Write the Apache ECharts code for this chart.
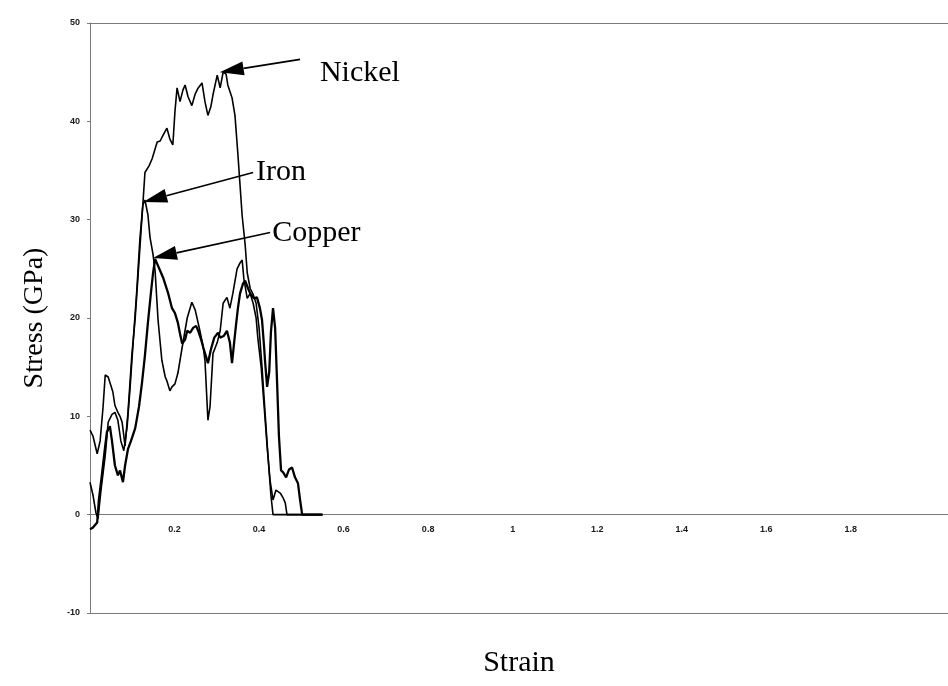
<!DOCTYPE html>
<html><head><meta charset="utf-8">
<script src="https://cdn.jsdelivr.net/npm/echarts@6/dist/echarts.min.js"></script>
<style>html,body{margin:0;padding:0;background:#fff}#c{width:948px;height:686px}</style>
</head><body><div id="c"></div>
<script>
// ---- data: [strain, stress (GPa)] ----
const nickel = [[0,3.3],[0.007,2.0],[0.014,0.2],[0.019,-0.4],[0.026,2.5],[0.036,6],[0.043,9.4],[0.052,10.2],[0.059,10.4],[0.066,9.6],[0.073,7.5],[0.080,6.5],[0.088,9],[0.095,13],[0.102,17.5],[0.111,23],[0.118,28],[0.125,31.5],[0.130,34.8],[0.140,35.5],[0.147,36.2],[0.152,36.9],[0.159,37.9],[0.166,38],[0.173,38.6],[0.182,39.3],[0.189,38.2],[0.196,37.6],[0.201,41],[0.206,43.4],[0.213,42],[0.220,43.2],[0.225,43.7],[0.232,42.5],[0.241,41.6],[0.249,42.8],[0.256,43.4],[0.265,43.9],[0.272,42],[0.279,40.6],[0.286,41.5],[0.291,42.7],[0.301,44.7],[0.308,43.4],[0.315,45],[0.322,44.8],[0.326,43.7],[0.336,42.4],[0.343,40.6],[0.350,36.6],[0.355,33.5],[0.360,30.4],[0.367,27.5],[0.372,24.6],[0.379,23],[0.386,22.4],[0.393,21.5],[0.400,19],[0.407,15],[0.414,10.5],[0.421,6],[0.428,2],[0.433,0],[0.55,0]];
const iron = [[0,8.6],[0.007,8.0],[0.017,6.2],[0.024,7.5],[0.031,11],[0.036,14.2],[0.043,14.0],[0.047,14],[0.054,12.5],[0.059,11.1],[0.066,10.4],[0.071,10],[0.076,9.4],[0.083,7],[0.090,10.5],[0.099,16.2],[0.107,20],[0.114,24.5],[0.121,29],[0.125,31.5],[0.130,32],[0.137,30.5],[0.142,28.2],[0.149,26.5],[0.154,24.8],[0.161,19.8],[0.170,15.7],[0.178,14],[0.182,13.6],[0.189,12.6],[0.194,13],[0.201,13.3],[0.208,14.4],[0.218,17],[0.230,20],[0.241,21.6],[0.249,20.8],[0.260,18.7],[0.268,17],[0.272,15.7],[0.279,9.6],[0.284,11],[0.291,16.4],[0.301,17.5],[0.308,18.7],[0.315,21.5],[0.324,22.1],[0.331,21],[0.338,22.5],[0.348,25],[0.355,25.6],[0.360,25.9],[0.364,24],[0.372,22],[0.379,22.5],[0.386,21.5],[0.393,20],[0.397,18],[0.405,15],[0.412,11],[0.419,7],[0.426,3.5],[0.433,1.5],[0.440,2.5],[0.450,2.2],[0.457,1.7],[0.462,1.2],[0.466,0],[0.55,0]];
const copper = [[0,-1.5],[0.007,-1.3],[0.017,-0.8],[0.021,1.5],[0.028,4],[0.036,7],[0.040,8.4],[0.047,9],[0.052,7.5],[0.059,5],[0.066,4],[0.071,4.5],[0.078,3.3],[0.083,5],[0.090,6.7],[0.097,7.5],[0.107,8.8],[0.116,11],[0.123,13.4],[0.130,16.2],[0.137,19.5],[0.144,22.5],[0.149,24.5],[0.154,26],[0.159,25.5],[0.166,24.8],[0.173,24.1],[0.185,22.5],[0.194,21],[0.201,20.5],[0.208,19.5],[0.213,18.4],[0.218,17.4],[0.225,17.8],[0.230,18.7],[0.237,18.5],[0.244,19],[0.251,19.2],[0.256,18.7],[0.263,17.8],[0.268,17],[0.275,16],[0.279,15.4],[0.286,16.8],[0.294,18],[0.303,18.5],[0.308,18],[0.317,18.2],[0.324,18.7],[0.331,17.5],[0.336,15.4],[0.341,17.5],[0.346,19.5],[0.350,21],[0.355,22.5],[0.362,23.5],[0.367,23.8],[0.374,23],[0.379,22.5],[0.388,22],[0.395,22.1],[0.402,21],[0.407,19.8],[0.412,17],[0.414,15.7],[0.419,13],[0.424,14.5],[0.428,18.5],[0.433,21],[0.438,19],[0.443,13],[0.447,8],[0.452,4.5],[0.457,4.3],[0.464,3.8],[0.471,4.6],[0.478,4.8],[0.485,3.8],[0.492,3.2],[0.497,1.5],[0.502,0],[0.55,0]];

const xTickValues = [0.2,0.4,0.6,0.8,1,1.2,1.4,1.6,1.8];
const xTickLabels = ['0.2','0.4','0.6','0.8','1','1.2','1.4','1.6','1.8'];
const yTickValues = [-10,0,10,20,30,40,50];
const yTickLabels = ['-10','0','10','20','30','40','50'];

const xTitle = 'Strain';
const yTitle = 'Stress (GPa)';

// annotations (data coords)
const annLabels = ['Nickel','Iron','Copper'];
const annText = [[0.544,44.9],[0.393,34.8],[0.431,28.6]];
const annTail = [[0.497,46.3],[0.386,34.8],[0.426,28.7]];
const annTip  = [[0.307,45.0],[0.126,31.8],[0.149,26.1]];

const chart = echarts.init(document.getElementById('c'), null, {renderer:'canvas'});
const lab = (vals, labs) => v => { const i = vals.findIndex(t => Math.abs(t - v) < 1e-6); return i >= 0 ? labs[i] : ''; };
const serif = '"Liberation Serif","Times New Roman",serif';
const axisGray = '#7a7a7a';
const XMAX = 2.03;
const borderAxis = (pos) => ({
  type: 'value', min: 0, max: XMAX, position: pos,
  axisLine: { show: true, onZero: false, lineStyle: { color: axisGray, width: 1 } },
  axisTick: { show: false }, axisLabel: { show: false }, splitLine: { show: false }
});

const option = {
  animation: false,
  backgroundColor: '#fff',
  grid: { left: 90, top: 23, right: 0, bottom: 73, show: false },
  xAxis: [
    {
      type: 'value', min: 0, max: XMAX, interval: 0.2, position: 'bottom', offset: -99,
      axisLine: { show: true, onZero: false, lineStyle: { color: axisGray, width: 1 } },
      axisTick: { show: false },
      splitLine: { show: false },
      axisLabel: { formatter: lab(xTickValues, xTickLabels), margin: 11, fontSize: 9, fontWeight: 'bold', color: '#1a1a1a', fontFamily: '"Liberation Sans",Arial,sans-serif', showMaxLabel: false, showMinLabel: false }
    },
    borderAxis('top'),
    Object.assign(borderAxis('bottom'), { offset: 0 })
  ],
  yAxis: {
    type: 'value', min: -10, max: 50, interval: 10,
    axisLine: { show: true, onZero: false, lineStyle: { color: axisGray, width: 1 } },
    axisTick: { show: true, length: 3, lineStyle: { color: axisGray } },
    splitLine: { show: false },
    axisLabel: { formatter: lab(yTickValues, yTickLabels), margin: 10, fontSize: 9, fontWeight: 'bold', color: '#1a1a1a', fontFamily: '"Liberation Sans",Arial,sans-serif' }
  },
  series: [
    { name: 'Nickel', type: 'line', data: nickel, showSymbol: false, symbol: 'none', lineStyle: { color: '#000', width: 1.6 }, z: 3 },
    { name: 'Iron', type: 'line', data: iron, showSymbol: false, symbol: 'none', lineStyle: { color: '#000', width: 1.6 }, z: 3 },
    { name: 'Copper', type: 'line', data: copper, showSymbol: false, symbol: 'none', lineStyle: { color: '#000', width: 2.3 }, z: 3 }
  ]
};
chart.setOption(option);

const elems = [];
annLabels.forEach((t, i) => {
  const p = chart.convertToPixel({xAxisIndex: 0, yAxisIndex: 0}, annText[i]);
  const a = chart.convertToPixel({xAxisIndex: 0, yAxisIndex: 0}, annTail[i]);
  const b = chart.convertToPixel({xAxisIndex: 0, yAxisIndex: 0}, annTip[i]);
  const dx = b[0] - a[0], dy = b[1] - a[1], L = Math.hypot(dx, dy);
  const ux = dx / L, uy = dy / L, len = 24, hw = 7;
  const bx = b[0] - ux * len, by = b[1] - uy * len;
  elems.push({ type: 'line', shape: { x1: a[0], y1: a[1], x2: bx, y2: by }, style: { stroke: '#000', lineWidth: 1.6 }, z: 10 });
  elems.push({ type: 'polygon', shape: { points: [[b[0], b[1]], [bx - uy * hw, by + ux * hw], [bx + uy * hw, by - ux * hw]] }, style: { fill: '#000' }, z: 10 });
  elems.push({ type: 'text', x: p[0], y: p[1], style: { text: t, font: '30px ' + serif, fill: '#000', textAlign: 'left', textVerticalAlign: 'middle' }, z: 10 });
});
elems.push({ type: 'text', x: 519, y: 663, style: { text: xTitle, font: '30px ' + serif, fill: '#000', textAlign: 'center', textVerticalAlign: 'middle' } });
elems.push({ type: 'text', x: 35, y: 318, rotation: Math.PI / 2, style: { text: yTitle, font: '28px ' + serif, fill: '#000', textAlign: 'center', textVerticalAlign: 'middle' } });
chart.setOption({ graphic: { elements: elems } });
</script>
</body></html>
